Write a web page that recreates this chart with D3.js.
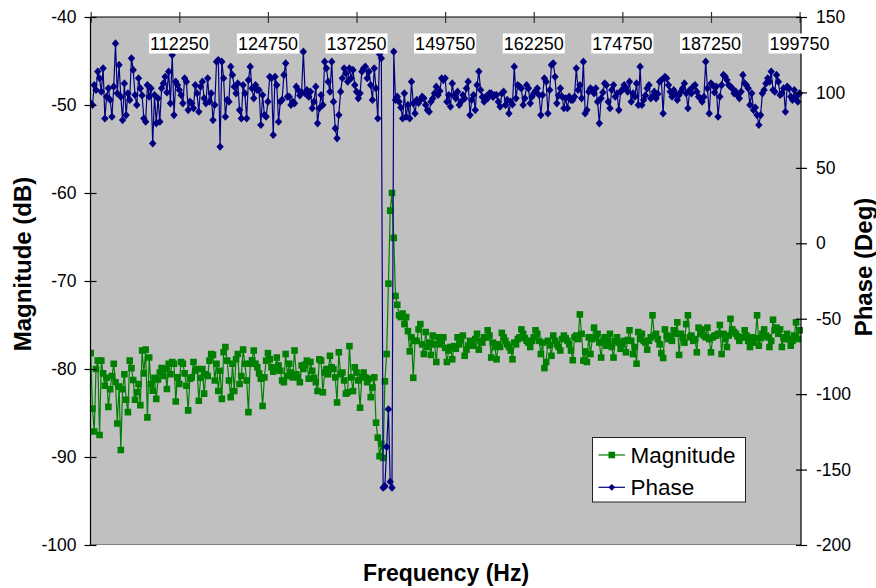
<!DOCTYPE html>
<html>
<head>
<meta charset="utf-8">
<script src="https://cdn.jsdelivr.net/npm/d3@7"></script>
<style>
  html, body { margin: 0; padding: 0; background: #ffffff; }
  svg { display: block; font-family: "Liberation Sans", Arial, Helvetica, sans-serif; }
</style>
</head>
<body>
<svg id="chart" width="876" height="588"></svg>
<script>
// Sweep: 99750 Hz to 199750 Hz in 250 Hz steps (401 points)
const freqStart = 99750;
const freqStep = 250;

// Magnitude response (dB)
const magnitude = [
  -78.2, -84.5, -87.1, -80.0, -79.05, -87.5, -79.05, -80.5, -81.9, -81.0,
  -84.3, -82.3, -80.8, -79.4, -81.5, -86.2, -82.0, -89.2, -82.3, -80.6,
  -83.5, -84.9, -79.05, -79.9, -81.25, -83.5, -82.65, -81.7, -84.1, -77.9,
  -80.5, -77.8, -85.5, -78.7, -81.7, -82.46, -81.0, -83.4, -81.2, -80.4,
  -79.9, -80.8, -80.0, -82.27, -79.4, -80.6, -79.2, -79.4, -83.7, -80.95,
  -81.7, -79.2, -79.4, -80.5, -81.9, -84.7, -81.1, -80.95, -79.2, -80.2,
  -80.0, -83.6, -81.0, -80.0, -82.8, -80.6, -80.8, -79.05, -78.3, -78.4,
  -81.3, -79.4, -82.5, -80.2, -83.4, -78.1, -77.5, -79.05, -81.3, -83.2,
  -79.4, -82.5, -78.9, -78.3, -81.7, -80.8, -77.8, -79.4, -81.3, -84.9,
  -79.4, -79.0, -77.9, -79.4, -79.8, -80.5, -81.1, -84.2, -80.95, -79.05,
  -78.2, -78.9, -79.8, -80.3, -80.0, -78.7, -79.6, -80.2, -81.3, -81.5,
  -78.3, -80.8, -79.4, -80.4, -80.95, -77.9, -80.6, -80.95, -81.5, -79.6,
  -80.0, -79.5, -79.05, -81.1, -79.2, -80.2, -81.0, -81.5, -82.5, -78.9,
  -79.05, -82.65, -80.4, -80.0, -80.6, -78.5, -79.8, -80.0, -80.95, -83.8,
  -78.1, -80.6, -80.4, -81.3, -82.8, -82.65, -77.4, -80.95, -82.5, -79.8,
  -80.4, -81.3, -84.4, -80.95, -80.4, -80.95, -81.5, -81.1, -83.2, -82.1,
  -80.95, -86.1, -87.8, -89.9, -88.5, -90.1, -81.4, -78.3, -70.3, -62.0,
  -60.0, -65.1, -71.7, -72.7, -73.9, -74.1, -73.7, -74.9, -74.1, -75.7,
  -78.0, -76.4, -81.0, -76.8, -76.8, -75.5, -74.9, -77.2, -78.3, -75.8,
  -77.5, -77.0, -78.4, -76.2, -77.2, -79.2, -76.4, -77.2, -76.8, -76.4,
  -77.6, -79.2, -77.9, -77.5, -78.9, -77.4, -77.7, -76.4, -77.2, -76.7,
  -76.2, -78.5, -77.8, -77.35, -76.8, -77.0, -77.35, -76.6, -76.0, -77.8,
  -76.8, -77.0, -76.4, -76.4, -75.6, -76.2, -78.7, -77.0, -77.5, -78.9,
  -77.2, -77.5, -75.9, -76.4, -76.8, -77.2, -77.5, -77.9, -78.9, -77.0,
  -77.2, -76.6, -76.4, -75.5, -76.0, -76.5, -76.8, -77.0, -77.5, -76.8,
  -76.4, -75.6, -76.0, -76.8, -78.3, -77.0, -79.9, -79.2, -76.8, -77.3,
  -78.5, -76.2, -76.8, -77.2, -77.5, -77.9, -76.6, -76.2, -76.5, -76.8,
  -77.2, -77.9, -79.0, -76.4, -76.2, -76.6, -73.8, -76.0, -79.05, -78.0,
  -79.2, -76.4, -78.3, -76.6, -75.3, -76.4, -76.0, -77.0, -78.7, -76.8,
  -76.4, -77.35, -76.8, -76.0, -77.5, -78.7, -76.8, -76.4, -77.0, -77.7,
  -77.2, -76.8, -78.1, -76.7, -75.6, -76.8, -78.3, -77.5, -79.4, -75.8,
  -76.6, -76.0, -76.8, -77.0, -77.8, -76.8, -76.4, -73.9, -76.2, -76.0,
  -76.6, -77.2, -78.2, -78.75, -75.5, -76.2, -76.6, -76.3, -76.8, -75.6,
  -76.0, -74.7, -78.4, -76.0, -76.4, -77.0, -74.9, -73.9, -76.4, -76.2,
  -76.8, -76.6, -78.1, -75.3, -76.0, -75.5, -76.2, -76.4, -75.3, -76.6,
  -78.1, -76.4, -76.2, -76.2, -76.0, -75.0, -78.3, -76.0, -76.6, -77.5,
  -76.2, -74.3, -75.5, -75.8, -76.0, -76.3, -76.8, -76.4, -76.4, -75.6,
  -76.2, -76.8, -77.5, -76.4, -77.0, -76.5, -73.9, -77.35, -76.5, -76.0,
  -75.5, -76.2, -76.4, -77.5, -76.8, -74.4, -75.6, -75.3, -76.0, -75.5,
  -77.5, -76.4, -76.6, -76.0, -76.6, -77.35, -76.8, -76.2, -74.7, -76.6,
  -75.6
];

// Phase response (degrees)
const phase = [
  92.8, 91.7, 104.9, 101.6, 113.8, 109.4, 100.5, 116, 82.8, 97.2,
  102.7, 95, 83.9, 103.8, 132.5, 99.4, 118.2, 97.2, 81.7, 106,
  85, 99.4, 95, 122.6, 114.9, 98.3, 91.7, 109.4, 102.7, 98,
  82.8, 80.6, 104.9, 97.2, 102.7, 66.2, 98.3, 79.5, 96.1, 80.6,
  102.7, 106, 110.4, 100, 113.8, 92.8, 124.8, 85, 107.1, 104.9,
  101.6, 98.3, 92.8, 109.4, 107.1, 88.3, 93.9, 92.8, 89.5, 104.9,
  99.4, 87.2, 103.8, 107.1, 96.1, 92.8, 109.4, 93.9, 99.4, 81.7,
  91.7, 120.4, 121.5, 64, 120.4, 109.4, 83.9, 95, 93.9, 117.1,
  111.6, 103.8, 99.4, 106, 88.3, 82.8, 104.9, 99.4, 82.8, 108.2,
  117.1, 102.7, 96.1, 104.9, 101.6, 101.6, 78.4, 98.3, 85, 83.9,
  93.9, 110.4, 109.4, 71.8, 110.4, 104.9, 80.6, 93.9, 95, 111.6,
  119.3, 97.2, 97.2, 91.7, 93.9, 92.8, 103.8, 101.6, 98, 100,
  127, 99.4, 101.6, 97.2, 100.5, 89.5, 93.9, 103.8, 79.5, 89.5,
  98.3, 91.7, 120.4, 116, 107.1, 100.5, 120.4, 93.9, 76.2, 69.6,
  85, 100.5, 109.4, 116, 112.7, 107.1, 116, 109.4, 114.9, 104.9,
  100.5, 96.1, 99.4, 113.8, 116, 117.1, 109.4, 113.8, 104.9, 95,
  116, 102.7, 82.8, 125.3, 122.6, -162, -161, -135, -110, -158,
  -162, 127, 95, 97.2, 93.9, 90, 82.8, 99.4, 83.9, 91.7,
  82.8, 107.1, 92.8, 86.1, 95, 93, 95, 97.2, 96.1, 91.7,
  88.3, 87.2, 93.9, 96, 99.4, 103.8, 98.3, 101, 109.4, 108.2,
  109.4, 93.9, 98.3, 90.6, 106, 98, 96.1, 100.5, 91.7, 93.9,
  98.3, 96, 102.7, 107.1, 85, 95, 98.3, 88.3, 104.9, 113.8,
  101.6, 97, 93.9, 97.2, 96.1, 99.4, 99.4, 97, 98.3, 98.3,
  93.9, 90.6, 99.4, 100.5, 91.7, 95, 86.1, 93.9, 92, 117.1,
  96.1, 104.9, 103.8, 102.7, 91.7, 96.1, 104.9, 102.7, 92.8, 97.2,
  99.4, 101, 102.7, 98.3, 85, 98.3, 109.4, 107.1, 86.1, 101.6,
  118.2, 119.3, 110.4, 92.8, 98, 102.7, 97.2, 89.5, 96.1, 89.5,
  97.2, 95, 95, 97.2, 116, 101.6, 104.9, 96.1, 120.4, 86.1,
  88.3, 100.5, 102.7, 101.6, 99.4, 102.7, 93.9, 79.5, 96.1, 100,
  106, 104.9, 93.9, 89.5, 101.6, 104.9, 97.2, 99.4, 88.3, 100.5,
  102, 104.9, 102.7, 100.5, 107.1, 93.9, 99.4, 97.2, 106, 91.7,
  117.1, 91.7, 95, 98, 102.7, 104.9, 96.1, 97.2, 100.5, 96.1,
  99, 107.1, 108.2, 86.1, 110.4, 109.4, 104.9, 100.5, 97.2, 101.6,
  99, 95, 98.3, 100.5, 102.7, 106, 99.4, 89.5, 101.6, 99.4,
  103.8, 104.9, 100.5, 97.2, 96.1, 93.9, 97, 120.4, 102.7, 86.1,
  106, 104.9, 100, 103.8, 83.9, 97.2, 104.9, 111.6, 110.5, 108.2,
  104.9, 103.8, 102.7, 99.4, 100.5, 98, 96.1, 100.5, 111.6, 106,
  104.9, 102.7, 91.7, 99.4, 88.3, 90, 85, 78.4, 85, 99.4,
  101.6, 106, 109.4, 107.1, 113.8, 101.6, 100.5, 111.6, 107.1, 98.3,
  99.4, 102.7, 87.2, 103.8, 102.7, 97.2, 95, 101.6, 97.2, 93.9,
  99.4
];

// Axis tick values
const freqTicks = [112250, 124750, 137250, 149750, 162250, 174750, 187250, 199750];
const magTicks = [-40, -50, -60, -70, -80, -90, -100];
const phaseTicks = [150, 100, 50, 0, -50, -100, -150, -200];

const seriesNames = ["Magnitude", "Phase"];
const colors = { Magnitude: "#008000", Phase: "#000080" };

const svg = d3.select("#chart");
const box = { left: 90.5, right: 801, top: 17, bottom: 545 };

const freqs = magnitude.map((_, i) => freqStart + i * freqStep);

const x = d3.scaleLinear()
  .domain([freqStart, freqStart + (magnitude.length - 1) * freqStep])
  .range([90.7, 799.6]);
const yMag = d3.scaleLinear().domain([-100, -40]).range([box.bottom, box.top]);
const yPh = d3.scaleLinear().domain([-200, 150]).range([box.bottom, box.top]);

// marker shapes
const squarePath = s => `M${-s},${-s}H${s}V${s}H${-s}Z`;
const diamondPath = (w, h) => `M0,${-h}L${w},0L0,${h}L${-w},0Z`;
const markerPath = { Magnitude: squarePath(3.3), Phase: diamondPath(3.7, 4.1) };

// plot area
svg.append("rect")
  .attr("x", box.left).attr("y", box.top)
  .attr("width", box.right - box.left).attr("height", box.bottom - box.top)
  .attr("fill", "#c0c0c0");
svg.append("line")
  .attr("x1", box.left).attr("x2", box.right)
  .attr("y1", box.bottom - 0.5).attr("y2", box.bottom - 0.5)
  .attr("stroke", "#808080").attr("stroke-width", 1.2);

// series
svg.append("defs").append("clipPath").attr("id", "plotclip")
  .append("rect").attr("x", box.left).attr("y", box.top - 6)
  .attr("width", box.right - box.left + 4).attr("height", box.bottom - box.top + 8);

const plotG = svg.append("g").attr("clip-path", "url(#plotclip)");

function drawSeries(values, yScale, name) {
  const pts = values.map((v, i) => [x(freqs[i]), yScale(v)]);
  plotG.append("path")
    .datum(pts)
    .attr("fill", "none")
    .attr("stroke", colors[name])
    .attr("stroke-width", 1.2)
    .attr("stroke-linejoin", "round")
    .attr("d", d3.line());
  plotG.append("g").selectAll("path")
    .data(pts)
    .join("path")
    .attr("transform", d => `translate(${d[0]},${d[1]})`)
    .attr("d", markerPath[name])
    .attr("fill", colors[name]);
}

drawSeries(magnitude, yMag, "Magnitude");
drawSeries(phase, yPh, "Phase");

// axes
const tickFont = 17.5;
const plain = d => String(d);

const topAxis = svg.append("g")
  .attr("transform", `translate(0,${box.top})`)
  .call(d3.axisTop(x).tickValues([freqStart].concat(freqTicks)).tickSizeInner(5).tickSizeOuter(0).tickFormat(""));
topAxis.select(".domain").attr("d", `M${box.left},0H${box.right}`).attr("stroke", "#000").attr("stroke-width", 1.2);
topAxis.selectAll(".tick line").attr("y1", -5).attr("y2", 6).attr("stroke", "#333").attr("stroke-width", 1.2);

const leftAxis = svg.append("g")
  .attr("transform", `translate(${box.left},0)`)
  .call(d3.axisLeft(yMag).tickValues(magTicks).tickFormat(plain).tickSizeInner(6).tickSizeOuter(0).tickPadding(8));
leftAxis.select(".domain").attr("d", `M0,${box.top}V${box.bottom}`).attr("stroke", "#000").attr("stroke-width", 1.2);
leftAxis.selectAll(".tick line").attr("x1", -6).attr("x2", 6).attr("stroke", "#000").attr("stroke-width", 1.2);
leftAxis.selectAll(".tick text").attr("font-size", tickFont).attr("fill", "#000")
  .attr("font-family", "Liberation Sans, Arial, sans-serif");

const rightAxis = svg.append("g")
  .attr("transform", `translate(${box.right},0)`)
  .call(d3.axisRight(yPh).tickValues(phaseTicks).tickFormat(plain).tickSizeInner(6).tickSizeOuter(0).tickPadding(9));
rightAxis.select(".domain").attr("d", `M0,${box.top}V${box.bottom}`).attr("stroke", "#000").attr("stroke-width", 1.2);
rightAxis.selectAll(".tick line").attr("x1", -5).attr("x2", 6).attr("stroke", "#000").attr("stroke-width", 1.2);
rightAxis.selectAll(".tick text").attr("font-size", tickFont).attr("fill", "#000")
  .attr("font-family", "Liberation Sans, Arial, sans-serif");

// frequency labels sit inside the plot, on white boxes
const fLab = svg.append("g").selectAll("g")
  .data(freqTicks)
  .join("g")
  .attr("transform", d => `translate(${x(d)},43.5)`);
fLab.append("text")
  .attr("text-anchor", "middle")
  .attr("dy", "0.36em")
  .attr("font-size", 18)
  .attr("fill", "#000")
  .text(plain);
fLab.each(function () {
  const g = d3.select(this);
  const bb = g.select("text").node().getBBox();
  g.insert("rect", "text")
    .attr("x", bb.x - 1).attr("y", -10)
    .attr("width", bb.width + 2).attr("height", 20)
    .attr("fill", "#fff");
});

// axis titles
svg.append("text")
  .attr("transform", "translate(30.5,264) rotate(-90)")
  .attr("text-anchor", "middle")
  .attr("font-size", 24).attr("font-weight", "bold")
  .text("Magnitude (dB)");
svg.append("text")
  .attr("transform", "translate(871.5,267) rotate(-90)")
  .attr("text-anchor", "middle")
  .attr("font-size", 24).attr("font-weight", "bold")
  .text("Phase (Deg)");
svg.append("text")
  .attr("x", 446).attr("y", 581)
  .attr("text-anchor", "middle")
  .attr("font-size", 23).attr("font-weight", "bold")
  .text("Frequency (Hz)");

// legend
const lg = svg.append("g").attr("transform", "translate(592.5,437.5)");
lg.append("rect").attr("width", 153).attr("height", 64.5)
  .attr("fill", "#fff").attr("stroke", "#222").attr("stroke-width", 1);
const legendMarker = { Magnitude: squarePath(3.3), Phase: diamondPath(3.4, 3.4) };
seriesNames.forEach((name, i) => {
  const ly = 17.5 + i * 32.3;
  lg.append("line").attr("x1", 6).attr("x2", 32.5).attr("y1", ly).attr("y2", ly)
    .attr("stroke", colors[name]).attr("stroke-width", 1.2);
  lg.append("path").attr("transform", `translate(19.3,${ly})`)
    .attr("d", legendMarker[name])
    .attr("fill", colors[name]);
  lg.append("text").attr("x", 38).attr("y", ly).attr("dy", "0.36em")
    .attr("font-size", 22.5).attr("fill", "#000").text(name);
});
</script>
</body>
</html>
